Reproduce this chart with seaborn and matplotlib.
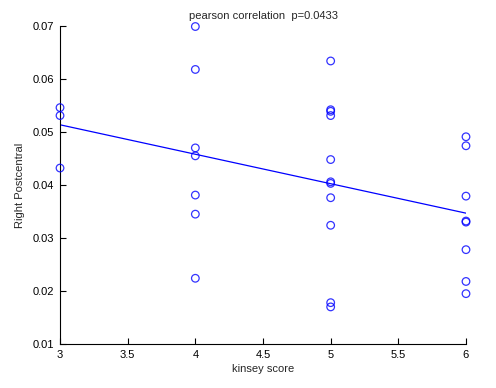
import numpy as np
import pandas as pd
import seaborn as sns
import matplotlib
matplotlib.use("Agg")
import matplotlib.pyplot as plt

# kinsey score groups and Right Postcentral values
kinsey_3 = [0.0546, 0.0531, 0.0432]
kinsey_4 = [0.0699, 0.0618, 0.0470, 0.0455, 0.0381, 0.0345, 0.0224]
kinsey_5 = [0.0634, 0.0542, 0.0539, 0.0531, 0.0448, 0.0406, 0.0403,
            0.0376, 0.0324, 0.0178, 0.0170]
kinsey_6 = [0.0491, 0.0474, 0.0379, 0.0332, 0.0330, 0.0278, 0.0218, 0.0195]

xticks = [3, 3.5, 4, 4.5, 5, 5.5, 6]
yticks = [0.01, 0.02, 0.03, 0.04, 0.05, 0.06, 0.07]

df = pd.DataFrame({
    "kinsey": [3] * len(kinsey_3) + [4] * len(kinsey_4)
              + [5] * len(kinsey_5) + [6] * len(kinsey_6),
    "rpc": kinsey_3 + kinsey_4 + kinsey_5 + kinsey_6,
})

sns.set_style("white", {"xtick.bottom": True, "ytick.left": True})
plt.rcParams["font.family"] = ["Liberation Sans", "DejaVu Sans"]

fig = plt.figure(figsize=(4.96, 3.88), dpi=100)
ax = fig.add_axes([0.121, 0.1134, 0.8185, 0.8196])

blue = "#0000ff"
sns.regplot(data=df, x="kinsey", y="rpc", ci=None, ax=ax, truncate=True,
            scatter_kws=dict(s=30, facecolors="none", edgecolors=blue,
                             linewidths=0.9, clip_on=False, zorder=3),
            line_kws=dict(color=blue, lw=0.9))

ax.set_xlim(3, 6)
ax.set_ylim(0.01, 0.07)
ax.set_xticks(xticks)
ax.set_xticklabels(["3", "3.5", "4", "4.5", "5", "5.5", "6"])
ax.set_yticks(yticks)
ax.set_yticklabels(["0.01", "0.02", "0.03", "0.04", "0.05", "0.06", "0.07"])
ax.tick_params(direction="in", length=4, width=0.8, labelsize=8, colors="black",
               pad=4, bottom=True, left=True)
for s in ["top", "right"]:
    ax.spines[s].set_visible(False)
for s in ["left", "bottom"]:
    ax.spines[s].set_color("black")
    ax.spines[s].set_linewidth(0.8)

ax.set_xlabel("kinsey score", fontsize=8, labelpad=3)
ax.set_ylabel("Right Postcentral", fontsize=8, labelpad=6)
ax.set_title("pearson correlation  p=0.0433", fontsize=8, pad=5)

fig.savefig("out.png", dpi=100)
